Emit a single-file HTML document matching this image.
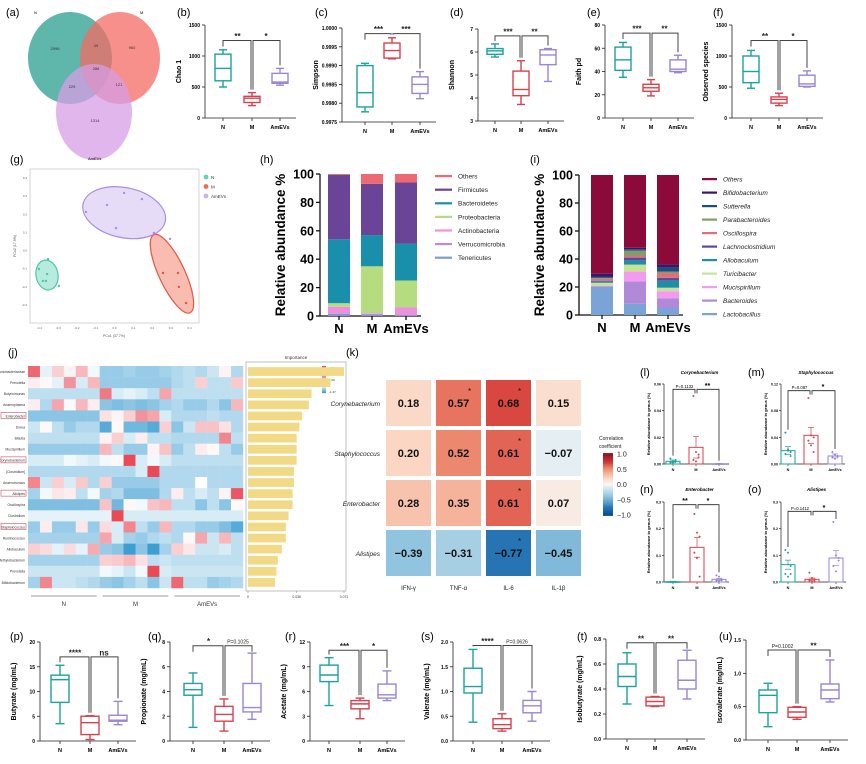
<!DOCTYPE html>
<html><head><meta charset="utf-8">
<style>
html,body{margin:0;padding:0;background:#fff;}
svg{display:block;font-family:"Liberation Sans",Arial,sans-serif;}
</style></head>
<body>
<svg id="fig" width="866" height="764" viewBox="0 0 866 764" xmlns="http://www.w3.org/2000/svg">
<g id="venn">
  <text x="6" y="16" font-size="11">(a)</text>
  <ellipse cx="70" cy="58" rx="42" ry="46" fill="#2a9d8f" opacity="0.75"/>
  <ellipse cx="120" cy="58" rx="40" ry="46" fill="#f46b63" opacity="0.75"/>
  <ellipse cx="94" cy="112" rx="38" ry="48" fill="#d69ee6" opacity="0.75"/>
  <text x="34" y="14" font-size="4">N</text>
  <text x="140" y="14" font-size="4">M</text>
  <text x="88" y="160" font-size="4">AmEVs</text>
  <g font-size="4" fill="#333" text-anchor="middle">
    <text x="55" y="50">2996</text>
    <text x="96" y="47">49</text>
    <text x="132" y="49">960</text>
    <text x="96" y="70">286</text>
    <text x="72" y="88">229</text>
    <text x="119" y="86">121</text>
    <text x="95" y="122">1314</text>
  </g>
</g>
</svg>
<script>
const NS='http://www.w3.org/2000/svg';
const svg=document.getElementById('fig');
const groups=['N','M','AmEVs'];
const groupColors=['#1ba39c','#d8424e','#9a86d3'];

// ---- box plot data: [min, q1, median, q3, max] per group ----
const chao1Box=[[500,600,800,1030,1100],[200,250,320,350,410],[530,560,580,720,800]];
const simpsonBox=[[0.99777,0.9979,0.99828,0.999,0.99906],[0.99918,0.9992,0.9994,0.9996,0.99974],[0.99812,0.99826,0.9985,0.9987,0.99884]];
const shannonBox=[[5.78,5.9,6.05,6.15,6.35],[3.72,4.1,4.37,5.17,5.62],[4.72,5.45,5.87,6.1,6.15]];
const faithBox=[[35,41,50,61,65],[19,23,26,29,33],[39,40,42,50,54]];
const observedBox=[[480,570,750,1000,1090],[200,240,300,340,400],[500,510,550,690,760]];
const butyrateBox=[[3.5,7.8,12.4,13.3,15.3],[0.3,1.3,3.7,5.0,5.1],[3.3,4.0,4.2,5.2,8.0]];
const propionateBox=[[1.1,3.7,4.15,4.65,5.5],[0.8,1.6,2.15,2.8,3.4],[1.75,2.35,2.7,4.65,7.1]];
const acetateBox=[[4.3,7.2,8.0,9.2,10.1],[2.7,3.9,4.5,4.9,5.2],[4.9,5.2,5.6,6.9,8.5]];
const valerateBox=[[0.38,0.97,1.1,1.47,1.85],[0.2,0.25,0.33,0.45,0.55],[0.4,0.57,0.71,0.82,1.0]];
const isobutyrateBox=[[0.28,0.42,0.5,0.6,0.69],[0.26,0.265,0.3,0.335,0.34],[0.32,0.4,0.47,0.63,0.71]];
const isovalerateBox=[[0.2,0.41,0.67,0.75,0.85],[0.31,0.34,0.42,0.49,0.5],[0.57,0.62,0.75,0.84,1.2]];

const chao1Ticks=[0,500,1000,1500];
const simpsonTicks=[0.9975,0.998,0.9985,0.999,0.9995,1.0];
const simpsonTickLabels=['0.9975','0.9980','0.9985','0.9990','0.9995','1.0000'];
const shannonTicks=[3,4,5,6,7];
const faithTicks=[0,20,40,60,80];
const observedTicks=[0,500,1000,1500];
const butyrateTicks=[0,5,10,15,20];
const propionateTicks=[0,2,4,6,8];
const acetateTicks=[0,3,6,9,12];
const valerateTicks=[0,0.5,1,1.5,2];
const valerateTickLabels=['0.0','0.5','1.0','1.5','2.0'];
const isobutyrateTicks=[0,0.2,0.4,0.6,0.8];
const isobutyrateTickLabels=['0.0','0.2','0.4','0.6','0.8'];
const isovalerateTicks=[0,0.5,1,1.5];
const isovalerateTickLabels=['0.0','0.5','1.0','1.5'];

// ---- stacked bar data (h) phylum, bottom->top ----
const phylaNames=['Tenericutes','Verrucomicrobia','Actinobacteria','Proteobacteria','Bacteroidetes','Firmicutes','Others'];
const phylaN=[1.5,0.5,4.5,2.5,45,45.5,0.5];
const phylaM=[1,0.5,0.5,33,22,36,7];
const phylaA=[0.5,0.5,5,19,26,43,6];
// ---- stacked bar data (i) genus, bottom->top ----
const genusNames=['Lactobacillus','Bacteroides','Mucispirillum','Turicibacter','Allobaculum','Lachnoclostridium','Oscillospira','Parabacteroides','Sutterella','Bifidobacterium','Others'];
const genusN=[20,0.5,0.5,2,1,0.5,1.5,0.5,1,2,70.5];
const genusM=[8,16,7,5,3,2,1.5,3.5,1,1,52];
const genusA=[5,7,5,2.5,5,2,3.5,1,3,2,64];
const pctTicks=[0,20,40,60,80,100];

// ---- PCoA points (g) ----
const pcoNx=[-0.354,-0.402,-0.359,-0.381,-0.365,-0.296];
const pcoNy=[-0.047,-0.102,-0.130,-0.168,-0.168,-0.196];
const pcoMx=[0.210,0.258,0.338,0.343,0.381];
const pcoMy=[0.097,-0.124,-0.124,-0.201,-0.290];
const pcoAx=[0.051,0.146,-0.040,-0.152,0.008,0.296];
const pcoAy=[0.318,0.284,0.251,0.213,0.124,0.064];

// ---- heatmap (j) ----
const heatRows=['Coriobacteriaceae','Prevotella','Butyricimonas','Anaeroplasma','Enterobacter','Dorea','Blautia','Mucispirillum','Corynebacterium','[Clostridium]','Anaerotruncus','Alistipes','Oscillospira','Clostridium','Staphylococcus','Ruminococcus','Allobaculum','Methylobacterium','Prevotella_2','Bifidobacterium'];
const heatValues=[
[2.5,-0.2,0.8,0.2,1.2,-0.1,-0.8,-0.8,-0.7,-0.8,-0.8,-0.7,-0.6,-0.5,-0.6,-0.4,0.2,-0.6],
[0.3,0.1,-0.2,1.8,-0.3,1.2,-0.8,-0.8,-0.8,-0.8,-0.8,-0.8,-0.6,-0.5,0.8,-0.5,-0.5,0.9],
[-0.5,-0.5,-0.5,-0.5,-0.5,-0.5,2.2,-0.3,-0.2,-0.3,-0.5,1.5,-0.5,-0.5,-0.5,-0.5,-0.5,-0.5],
[0.3,-0.6,1.5,0.1,1.2,0.3,-0.9,-1.0,-0.9,-1.0,-0.9,-0.7,-0.6,-0.8,-0.8,-0.6,-0.9,1.2],
[-0.9,-0.9,-0.9,-0.9,-0.9,-0.9,0.5,0.2,0.8,1.8,1.5,-0.3,-0.6,-0.6,-0.6,-0.5,-0.6,-0.6],
[-0.4,0.1,-0.5,-0.8,-0.6,-0.6,-1.3,0.1,-1.1,-1.1,-1.3,0.8,-0.9,-0.4,1.0,1.0,0.5,-0.6],
[-0.5,-0.5,-0.5,-0.5,-0.5,-0.5,0.2,0.8,-0.3,0.3,-0.5,-0.5,-0.6,-0.6,-0.6,-0.6,2.0,-0.5],
[-0.8,-0.8,-0.8,-0.8,-0.8,-0.8,1.2,-0.5,-0.8,-0.8,0.2,1.0,-0.8,-0.5,0.3,0.1,-0.5,-0.8],
[-0.3,-0.3,-0.3,-0.1,-0.2,-0.3,-0.1,0.1,3.5,-0.3,-0.1,-0.3,-0.5,-0.5,-0.5,-0.5,-0.5,-0.5],
[-0.6,-0.6,-0.6,-0.6,-0.6,-0.6,-0.6,-0.6,-0.6,-0.3,3.0,-0.6,-0.6,-0.6,-0.6,-0.6,-0.6,-0.6],
[2.0,-0.4,0.8,-0.3,0.9,-0.6,0.8,-0.8,-0.8,-0.8,-0.8,-0.6,-0.6,-0.6,0,-0.6,-0.6,-0.6],
[-0.7,-0.1,0.4,0.3,-0.5,-0.1,-0.7,-0.6,-1.0,-1.0,-1.0,-0.6,0.3,-0.5,-0.3,-0.5,0.2,2.8],
[-1.0,-1.0,-1.0,-1.0,-1.0,-1.0,1.0,-1.1,0.1,-0.1,1.0,1.2,-0.5,-0.5,-0.9,-0.5,-0.9,0.1],
[-0.2,-0.2,-0.2,-0.2,-0.2,-0.2,-0.2,3.5,-0.3,-0.3,-0.3,-0.3,-0.3,-0.3,-0.3,-0.3,-0.3,-0.3],
[-0.8,0.3,-0.8,-0.8,0.4,-0.8,0.6,-0.3,2.0,-0.5,-0.8,1.2,-0.6,-0.6,-0.8,-0.8,-1.0,-1.3],
[-0.7,-0.7,-0.7,-0.7,-0.7,-0.7,1.5,-0.3,-0.7,-0.8,-0.6,-0.5,-0.6,0.1,1.5,-0.4,1.2,-0.5],
[0.8,0.6,-0.2,0.6,-0.2,1.4,-0.8,-0.9,-1.5,-0.9,-1.5,-0.7,0.8,0.4,-0.4,-0.4,-0.3,-0.5],
[-0.7,-0.7,-0.7,-0.7,-0.7,-0.7,0.8,0.9,1.2,0.5,-0.5,-0.4,-0.5,-0.5,-0.5,-0.5,-0.5,-0.5],
[-0.4,-0.4,-0.4,-0.4,-0.4,-0.4,-0.1,-0.2,-0.4,-0.1,3.2,-0.3,-0.4,-0.4,-0.4,-0.4,-0.4,-0.4],
[-0.7,2.0,-0.4,-0.4,-0.5,-0.6,-0.8,-0.9,-0.7,-0.5,-0.9,-0.4,2.5,-0.5,-0.5,-0.8,-0.7,-0.6]];
const highlightedRows=['Enterobacter','Corynebacterium','Alistipes','Staphylococcus'];
const importanceValues=[0.071,0.061,0.047,0.045,0.040,0.038,0.036,0.036,0.036,0.034,0.034,0.033,0.033,0.030,0.028,0.028,0.025,0.022,0.021,0.020];
const importanceTicks=[0,0.036,0.071];

// ---- correlation (k) ----
const corrRows=['Corynebacterium','Staphylococcus','Enterobacter','Alistipes'];
const corrCols=['IFN-γ','TNF-α','IL-6','IL-1β'];
const corrValues=[[0.18,0.57,0.68,0.15],[0.20,0.52,0.61,-0.07],[0.28,0.35,0.61,0.07],[-0.39,-0.31,-0.77,-0.45]];
const corrStars=[[0,1,1,0],[0,0,1,0],[0,0,1,0],[0,0,1,0]];
const corrTicks=[1,0.5,0,-0.5,-1];

// ---- bar + dot panels (l-o) ----
const corynMean=[0.002,0.0125,0.0002], corynSem=[0.001,0.008,0];
const corynPts=[[0.001,0.002,0.003,0.004,0.001,0.002],[0.051,0.009,0.005,0.003,0.002,0.007],[0,0,0,0,0,0]];
const staphMean=[0.02,0.043,0.012], staphSem=[0.006,0.012,0.003];
const staphPts=[[0.047,0.02,0.018,0.015,0.022,0.012],[0.099,0.043,0.04,0.035,0.028,0.018],[0.018,0.014,0.012,0.01,0.008,0.011]];
const enteroMean=[0.001,0.13,0.01], enteroSem=[0.0005,0.037,0.004];
const enteroPts=[[0,0.001,0,0.001,0,0.001],[0.255,0.185,0.17,0.11,0.09,0.02],[0.025,0.02,0.01,0.005,0.003,0.006]];
const alistMean=[0.065,0.01,0.09], alistSem=[0.017,0.005,0.028];
const alistPts=[[0.12,0.11,0.06,0.03,0.02,0.03],[0.035,0.015,0.01,0.005,0.002,0.001],[0.225,0.1,0.08,0.06,0.04,0.09]];
const corynTicks=[0,0.02,0.04,0.06], corynTickLabels=['0.00','0.02','0.04','0.06'];
const staphTicks=[0,0.04,0.08,0.12], staphTickLabels=['0.00','0.04','0.08','0.12'];
const pctGenusTicks=[0,0.1,0.2,0.3], pctGenusTickLabels=['0.0','0.1','0.2','0.3'];

// ---------- helpers ----------
function el(tag,attrs,parent){const e=document.createElementNS(NS,tag);for(const k in attrs)e.setAttribute(k,attrs[k]);(parent||svg).appendChild(e);return e;}
function txt(x,y,s,size,parent,extra){const t=el('text',Object.assign({x:x,y:y,'font-size':size},extra||{}),parent);t.textContent=s;return t;}
function lin(d0,d1,r0,r1){return v=>r0+(v-d0)/(d1-d0)*(r1-r0);}
function hex2rgb(h){return [parseInt(h.substr(1,2),16),parseInt(h.substr(3,2),16),parseInt(h.substr(5,2),16)];}
function mix(a,b,t){const A=hex2rgb(a),B=hex2rgb(b);return 'rgb('+A.map((v,i)=>Math.round(v+(B[i]-v)*t)).join(',')+')';}

// ---------- box panels ----------
function boxPanel(cfg){
  const g=el('g',{});
  
  
  const lab=txt(cfg.lx,cfg.ly,cfg.label,11,g);
  
  
  const y=lin(cfg.ticks[0],cfg.ticks[cfg.ticks.length-1],cfg.yBot,cfg.yTop);
  const xEnd=cfg.xs[2]+cfg.bw;
  el('line',{x1:cfg.ax,y1:cfg.yTop,x2:cfg.ax,y2:cfg.yBot,stroke:'#222','stroke-width':0.8},g);
  el('line',{x1:cfg.ax,y1:cfg.yBot,x2:xEnd,y2:cfg.yBot,stroke:'#222','stroke-width':0.8},g);
  cfg.ticks.forEach((t,i)=>{
    el('line',{x1:cfg.ax-3,y1:y(t),x2:cfg.ax,y2:y(t),stroke:'#222','stroke-width':0.8},g);
    const tl=txt(cfg.ax-5,y(t)+2,cfg.tickLabels?cfg.tickLabels[i]:String(t),5,g,{'text-anchor':'end','font-weight':'bold'});
    
    
  });
  cfg.xs.forEach((x,i)=>{
    el('line',{x1:x,y1:cfg.yBot,x2:x,y2:cfg.yBot+3,stroke:'#222','stroke-width':0.8},g);
    const xl=txt(x,cfg.yBot+11,groups[i],5.5,g,{'text-anchor':'middle','font-weight':'bold'});
    
    
  });
  const yt=txt(0,0,cfg.title,7,g,{'text-anchor':'middle','font-weight':'bold',transform:'translate('+(cfg.ax-24)+','+((cfg.yTop+cfg.yBot)/2)+') rotate(-90)'});
  
  
  cfg.data.forEach((d,i)=>{
    const x=cfg.xs[i],c=groupColors[i],hw=cfg.bw/2;
    const bg=el('g',{stroke:c,'stroke-width':1.4,fill:'#fff'},g);
    
    
    el('line',{x1:x,y1:y(d[0]),x2:x,y2:y(d[4])},bg);
    el('line',{x1:x-hw/2,y1:y(d[0]),x2:x+hw/2,y2:y(d[0])},bg);
    el('line',{x1:x-hw/2,y1:y(d[4]),x2:x+hw/2,y2:y(d[4])},bg);
    el('rect',{x:x-hw,y:y(d[3]),width:cfg.bw,height:Math.max(0.5,y(d[1])-y(d[3])),fill:'#fff'},bg);
    el('line',{x1:x-hw,y1:y(d[2]),x2:x+hw,y2:y(d[2])},bg);
  });
  // brackets
  const by=y(cfg.br);
  const top=i=>y(cfg.data[i][4])-3;
  const bk=el('g',{stroke:'#444','stroke-width':1,fill:'none'},g);
  
  
  el('polyline',{points:cfg.xs[0]+','+(top(0)>by+6?by+6:top(0))+' '+cfg.xs[0]+','+by+' '+(cfg.xs[1]-1)+','+by+' '+(cfg.xs[1]-1)+','+top(1)},bk);
  el('polyline',{points:(cfg.xs[1]+1)+','+top(1)+' '+(cfg.xs[1]+1)+','+by+' '+cfg.xs[2]+','+by+' '+cfg.xs[2]+','+(top(2)>by+6?top(2):by+6)},bk);
  cfg.sig.forEach((s,i)=>{
    const cx=(cfg.xs[i]+cfg.xs[i+1])/2;
    const isP=s.indexOf('P=')===0;
    const st=txt(cx,by-(isP?2:1.5),s,isP?5:8,g,{'text-anchor':'middle','font-weight':isP?'normal':'bold',fill:'#222'});
    
    
  });
}
const boxPanels=[
 {name:'chao1-boxplot',label:'(b)',lx:177,ly:16,ax:205,yTop:25,yBot:118,xs:[223,252,280],bw:16,data:chao1Box,ticks:chao1Ticks,title:'Chao 1',br:1250,sig:['**','*']},
 {name:'simpson-boxplot',label:'(c)',lx:315,ly:16,ax:342,yTop:28,yBot:122,xs:[365,392,420],bw:16,data:simpsonBox,ticks:simpsonTicks,tickLabels:simpsonTickLabels,title:'Simpson',br:0.99985,sig:['***','***']},
 {name:'shannon-boxplot',label:'(d)',lx:450,ly:16,ax:478,yTop:29,yBot:121,xs:[495,521,548],bw:16,data:shannonBox,ticks:shannonTicks,title:'Shannon',br:6.7,sig:['***','**']},
 {name:'faith-pd-boxplot',label:'(e)',lx:587,ly:16,ax:605,yTop:25,yBot:118,xs:[623,651,678],bw:16,data:faithBox,ticks:faithTicks,title:'Faith pd',br:73,sig:['***','**']},
 {name:'observed-species-boxplot',label:'(f)',lx:713,ly:16,ax:732,yTop:25,yBot:118,xs:[751,779,807],bw:16,data:observedBox,ticks:observedTicks,title:'Observed species',br:1250,sig:['**','*']},
 {name:'butyrate-boxplot',label:'(p)',lx:10,ly:640,ax:40,yTop:642,yBot:741,xs:[60,90,118],bw:18,data:butyrateBox,ticks:butyrateTicks,title:'Butyrate (mg/mL)',br:17,sig:['****','ns']},
 {name:'propionate-boxplot',label:'(q)',lx:148,ly:640,ax:170,yTop:642,yBot:741,xs:[193,224,252],bw:18,data:propionateTicks?propionateBox:propionateBox,ticks:propionateTicks,title:'Propionate (mg/mL)',br:7.7,sig:['*','P=0.1025']},
 {name:'acetate-boxplot',label:'(r)',lx:285,ly:640,ax:310,yTop:642,yBot:741,xs:[329,360,387],bw:18,data:acetateBox,ticks:acetateTicks,title:'Acetate (mg/mL)',br:11,sig:['***','*']},
 {name:'valerate-boxplot',label:'(s)',lx:421,ly:640,ax:453,yTop:642,yBot:741,xs:[473,502,532],bw:18,data:valerateBox,ticks:valerateTicks,tickLabels:valerateTickLabels,title:'Valerate (mg/mL)',br:1.93,sig:['****','P=0.0626']},
 {name:'isobutyrate-boxplot',label:'(t)',lx:577,ly:640,ax:606,yTop:639,yBot:739,xs:[627,655,687],bw:18,data:isobutyrateBox,ticks:isobutyrateTicks,tickLabels:isobutyrateTickLabels,title:'Isobutyrate (mg/mL)',br:0.77,sig:['**','**']},
 {name:'isovalerate-boxplot',label:'(u)',lx:719,ly:640,ax:746,yTop:640,yBot:740,xs:[768,797,830],bw:18,data:isovalerateBox,ticks:isovalerateTicks,tickLabels:isovalerateTickLabels,title:'Isovalerate (mg/mL)',br:1.35,sig:['P=0.1002','**']}
];
boxPanels.forEach(boxPanel);

// ---------- PCoA (g) ----------
(function(){
  const g=el('g',{});
  
  
  const l=txt(10,163,'(g)',11,g);
  
  
  el('rect',{x:30,y:169,width:169,height:154,fill:'none',stroke:'#ccc','stroke-width':0.8},g);
  const x=lin(-0.45,0.45,30,199), y=lin(-0.4,0.45,323,169);
  [-0.4,-0.3,-0.2,-0.1,0,0.1,0.2,0.3,0.4].forEach(t=>{txt(x(t),329,t.toFixed(1),3,g,{'text-anchor':'middle',fill:'#666'});});
  [-0.3,-0.2,-0.1,0,0.1,0.2,0.3,0.4].forEach(t=>{txt(27,y(t)+1,t.toFixed(1),3,g,{'text-anchor':'end',fill:'#666'});});
  txt(114,337,'PCo1 (37.7%)',3.5,g,{'text-anchor':'middle',fill:'#555'});
  txt(0,0,'PCo2 (17.5%)',3.5,g,{'text-anchor':'middle',fill:'#555',transform:'translate(16,246) rotate(-90)'});
  const sets=[[pcoNx,pcoNy,'#5fd3b4','#4cc7a8',11,15,-10],[pcoMx,pcoMy,'#f06a50','#e5553f',13,43,-25],[pcoAx,pcoAy,'#c8b2f0','#a98be6',42,25,12]];
  sets.forEach((s,i)=>{
    const mx=s[0].reduce((a,b)=>a+b,0)/s[0].length, my=s[1].reduce((a,b)=>a+b,0)/s[1].length;
    const e=el('ellipse',{cx:x(mx),cy:y(my),rx:s[4],ry:s[5],fill:s[2],'fill-opacity':0.45,stroke:s[3],'stroke-width':1.2,transform:'rotate('+s[6]+' '+x(mx)+' '+y(my)+')'},g);
    
    
    s[0].forEach((v,j)=>{
      const p=el('circle',{cx:x(v),cy:y(s[1][j]),r:1.2,fill:s[3]},g);
      
      
    });
  });
  const lc=['#5fd3b4','#f06a50','#c8b2f0'];
  groups.forEach((gname,i)=>{
    const le=el('g',{},g);
    
    
    el('circle',{cx:206,cy:177+i*9.5,r:2.4,fill:lc[i]},le);
    txt(211,179+i*9.5,gname,4.5,le,{fill:'#333'});
  });
})();

// ---------- stacked bars ----------
function stacked(cfg){
  const g=el('g',{});
  
  
  const l=txt(cfg.lx,163,cfg.label,11,g);
  
  
  const y=lin(0,100,cfg.yBot,cfg.yTop);
  el('line',{x1:cfg.ax,y1:cfg.yTop,x2:cfg.ax,y2:cfg.yBot,stroke:'#111','stroke-width':1.3},g);
  el('line',{x1:cfg.ax,y1:cfg.yBot,x2:cfg.xs[2]+cfg.bw/2+4,y2:cfg.yBot,stroke:'#111','stroke-width':1.3},g);
  pctTicks.forEach(t=>{
    el('line',{x1:cfg.ax-4,y1:y(t),x2:cfg.ax,y2:y(t),stroke:'#111','stroke-width':1.3},g);
    const tl=txt(cfg.ax-6,y(t)+4.5,String(t),12.5,g,{'text-anchor':'end','font-weight':'bold'});
    
    
  });
  const yt=txt(0,0,'Relative abundance %',13.5,g,{'text-anchor':'middle','font-weight':'bold',transform:'translate('+(cfg.ax-35)+','+((cfg.yTop+cfg.yBot)/2)+') rotate(-90)'});
  
  
  cfg.series.forEach((vals,i)=>{
    let acc=0;
    const x=cfg.xs[i];
    el('line',{x1:x,y1:cfg.yBot,x2:x,y2:cfg.yBot+4,stroke:'#111','stroke-width':1.3},g);
    const xl=txt(x,cfg.yBot+17,groups[i],13,g,{'text-anchor':'middle','font-weight':'bold'});
    
    
    vals.forEach((v,j)=>{
      const r=el('rect',{x:x-cfg.bw/2,y:y(acc+v),width:cfg.bw,height:y(acc)-y(acc+v),fill:cfg.colors[j]},g);
      
      
      acc+=v;
    });
  });
  const n=cfg.names.length;
  for(let k=0;k<n;k++){
    const j=n-1-k;
    const le=el('g',{},g);
    
    
    el('rect',{x:cfg.legX,y:cfg.legY+k*cfg.legStep-1,width:cfg.legW,height:2.2,fill:cfg.colors[j]},le);
    txt(cfg.legX+cfg.legW+6,cfg.legY+k*cfg.legStep+2.5,cfg.names[j],6.5,le,{'font-style':cfg.italic?'italic':'normal',fill:'#222'});
  }
}
stacked({name:'phylum-stacked-bar',label:'(h)',lx:260,ax:320,yTop:174,yBot:316,xs:[339,372,406],bw:22,series:[phylaN,phylaM,phylaA],names:phylaNames,
  colors:['#7e9ad0','#c08ad8','#f28ee0','#b6dc80','#1a8fac','#6a4496','#ee6a72'],legX:435,legY:176,legStep:13.6,legW:17,italic:false});
stacked({name:'genus-stacked-bar',label:'(i)',lx:530,ax:579,yTop:175,yBot:315,xs:[602,635,668],bw:22,series:[genusN,genusM,genusA],names:genusNames,
  colors:['#7aa4d8','#b08ad8','#f49af0','#c4e494','#1e8ea6','#5e4a9c','#e07078','#7e9e6a','#17507e','#3a1470','#8b0a3a'],legX:702,legY:179,legStep:13.5,legW:15,italic:true});

// ---------- heatmap (j) ----------
(function(){
  const g=el('g',{});
  
  
  const l=txt(8,356,'(j)',11,g);
  
  
  const x0=28,y0=366,cw=215/18,rh=222/20;
  const col=v=>v<0?mix('#ffffff','#3d9ed2',Math.min(1,-v/1.5)):mix('#ffffff','#ea4a56',Math.min(1,v/3));
  heatValues.forEach((row,r)=>{
    row.forEach((v,c)=>{
      const cell=el('rect',{x:x0+c*cw,y:y0+r*rh,width:cw+0.2,height:rh+0.2,fill:col(v)},g);
      
      
    });
    const name=heatRows[r].replace('_2','');
    const t=txt(x0-3,y0+r*rh+rh/2+1.3,name,3.4,g,{'text-anchor':'end',fill:'#333'});
    
    
    if(highlightedRows.indexOf(heatRows[r])>=0){
      el('rect',{x:x0-27,y:y0+r*rh+rh/2-3.5,width:25,height:6,fill:'none',stroke:'#d44a6a','stroke-width':0.6},g);
    }
  });
  [[0,6,'N'],[6,12,'M'],[12,18,'AmEVs']].forEach(s=>{
    el('line',{x1:x0+s[0]*cw+3,y1:596,x2:x0+s[1]*cw-3,y2:596,stroke:'#777','stroke-width':0.7},g);
    txt(x0+(s[0]+s[1])/2*cw,606,s[2],6,g,{'text-anchor':'middle',fill:'#333'});
  });
  // colorbar
  const cb=el('g',{},g);
  
  
  for(let k=0;k<20;k++){const v=4.11-(k/19)*(4.11+1.47);el('rect',{x:322,y:366+k*1.35,width:4,height:1.5,fill:col(v)},cb);}
  txt(329,369,'4.11',3,cb,{fill:'#333'});
  txt(329,381,'0.00',3,cb,{fill:'#333'});
  txt(329,393,'-1.47',3,cb,{fill:'#333'});
  // importance
  const ig=el('g',{},g);
  
  
  el('rect',{x:246,y:362,width:100,height:229,fill:'none',stroke:'#999','stroke-width':0.6},ig);
  txt(296,359,'Importance',4.5,ig,{'text-anchor':'middle',fill:'#333'});
  const xi=lin(0,0.071,248,344);
  importanceValues.forEach((v,r)=>{
    const b=el('rect',{x:248,y:y0+r*rh+1.2,width:xi(v)-248,height:rh-2.4,fill:'#f1d985'},ig);
    
    
  });
  importanceTicks.forEach(t=>{
    el('line',{x1:xi(t),y1:591,x2:xi(t),y2:593,stroke:'#777','stroke-width':0.5},ig);
    txt(xi(t),598,String(t),3.4,ig,{'text-anchor':'middle',fill:'#333'});
  });
})();

// ---------- correlation (k) ----------
(function(){
  const g=el('g',{});
  
  
  const l=txt(346,356,'(k)',11,g);
  
  
  const stops=[[-1,'#0a4a8a'],[-0.75,'#2a78b8'],[-0.4,'#8ec4de'],[0,'#f7f7f7'],[0.2,'#fbd6c2'],[0.5,'#ee9073'],[0.7,'#d6403a'],[1,'#8e0c20']];
  const col=v=>{for(let i=1;i<stops.length;i++){if(v<=stops[i][0]){const a=stops[i-1],b=stops[i];return mix(a[1],b[1],(v-a[0])/(b[0]-a[0]));}}return stops[stops.length-1][1];};
  const cx=c=>386+c*50, cy=r=>380+r*50;
  corrValues.forEach((row,r)=>{
    row.forEach((v,c)=>{
      const rc=el('rect',{x:cx(c),y:cy(r),width:45,height:46,fill:col(v)},g);
      
      
      const t=txt(cx(c)+22.5,cy(r)+27,(v<0?'−':'')+Math.abs(v).toFixed(2),11,g,{'text-anchor':'middle','font-weight':'bold',fill:'#111'});
      
      
      if(corrStars[r][c]) txt(cx(c)+32,cy(r)+14,'*',8,g,{fill:'#111'});
    });
    const rl=txt(380,cy(r)+26,corrRows[r],6.5,g,{'text-anchor':'end','font-style':'italic',fill:'#222'});
    
    
  });
  corrCols.forEach((s,c)=>{
    const t=txt(cx(c)+22.5,590,s,6,g,{'text-anchor':'middle',fill:'#222'});
    
    
  });
  const cb=el('g',{},g);
  
  
  txt(599,440,'Correlation',5,cb,{fill:'#222'});
  txt(599,448,'coefficient',5,cb,{fill:'#222'});
  const yc=lin(1,-1,454,515);
  for(let k=0;k<40;k++){const v=1-k/39*2;el('rect',{x:603,y:yc(v)-0.9,width:10,height:1.8,fill:col(v)},cb);}
  corrTicks.forEach(t=>{txt(617,yc(t)+2.5,t.toFixed(1).replace('-','−'),7,cb,{fill:'#222'});});
})();

// ---------- bar + dot panels ----------
function dotPanel(cfg){
  const g=el('g',{});
  
  
  const l=txt(cfg.lx,cfg.ly,cfg.label,11,g);
  
  
  txt((cfg.ax+cfg.xs[2]+8)/2+4,cfg.ly-2,cfg.title,4.6,g,{'text-anchor':'middle','font-style':'italic','font-weight':'bold'});
  const y=lin(0,cfg.ticks[cfg.ticks.length-1],cfg.yBot,cfg.yTop);
  el('line',{x1:cfg.ax,y1:cfg.yTop,x2:cfg.ax,y2:cfg.yBot,stroke:'#222','stroke-width':0.7},g);
  el('line',{x1:cfg.ax,y1:cfg.yBot,x2:cfg.xs[2]+10,y2:cfg.yBot,stroke:'#222','stroke-width':0.7},g);
  cfg.ticks.forEach((t,i)=>{
    el('line',{x1:cfg.ax-2,y1:y(t),x2:cfg.ax,y2:y(t),stroke:'#222','stroke-width':0.7},g);
    txt(cfg.ax-3,y(t)+1.5,cfg.tickLabels[i],3.6,g,{'text-anchor':'end','font-weight':'bold'});
  });
  txt(0,0,'Relative abundance in genus (%)',4,g,{'text-anchor':'middle','font-weight':'bold',transform:'translate('+(cfg.ax-14)+','+((cfg.yTop+cfg.yBot)/2)+') rotate(-90)'});
  cfg.means.forEach((m,i)=>{
    const x=cfg.xs[i],c=groupColors[i];
    el('line',{x1:x,y1:cfg.yBot,x2:x,y2:cfg.yBot+2,stroke:'#222','stroke-width':0.6},g);
    txt(x,cfg.yBot+7,groups[i],3.8,g,{'text-anchor':'middle','font-weight':'bold'});
    const b=el('rect',{x:x-7,y:y(m),width:14,height:Math.max(0.6,cfg.yBot-y(m)),fill:'#fff',stroke:c,'stroke-width':1},g);
    
    
    el('line',{x1:x,y1:y(m),x2:x,y2:y(m+cfg.sems[i]),stroke:c,'stroke-width':0.7},g);
    el('line',{x1:x-3,y1:y(m+cfg.sems[i]),x2:x+3,y2:y(m+cfg.sems[i]),stroke:c,'stroke-width':0.7},g);
    el('line',{x1:x-3,y1:y(Math.max(0,m-cfg.sems[i])),x2:x+3,y2:y(Math.max(0,m-cfg.sems[i])),stroke:c,'stroke-width':0.7},g);
    cfg.pts[i].forEach((p,j)=>{
      const d=el('circle',{cx:x+((j%3)-1)*2.6,cy:y(p),r:1,fill:c},g);
      
      
    });
  });
  const by=y(cfg.br);
  const maxTop=i=>y(Math.max(cfg.means[i]+cfg.sems[i],Math.max.apply(null,cfg.pts[i])))-3;
  const bk=el('g',{stroke:'#222','stroke-width':0.8,fill:'none'},g);
  el('polyline',{points:cfg.xs[0]+','+maxTop(0)+' '+cfg.xs[0]+','+by+' '+(cfg.xs[1]-1)+','+by+' '+(cfg.xs[1]-1)+','+(by+4)},bk);
  el('polyline',{points:(cfg.xs[1]+1)+','+(by+4)+' '+(cfg.xs[1]+1)+','+by+' '+cfg.xs[2]+','+by+' '+cfg.xs[2]+','+maxTop(2)},bk);
  cfg.sig.forEach((s,i)=>{
    const isP=s.indexOf('P=')===0;
    txt((cfg.xs[i]+cfg.xs[i+1])/2,by-1.5,s,isP?4.2:7,g,{'text-anchor':'middle','font-weight':isP?'normal':'bold'});
  });
}
dotPanel({name:'corynebacterium-bar-chart',label:'(l)',lx:640,ly:376,title:'Corynebacterium',ax:664,yTop:384,yBot:464,xs:[673,696,719],ticks:corynTicks,tickLabels:corynTickLabels,means:corynMean,sems:corynSem,pts:corynPts,br:0.056,sig:['P=0.1132','**']});
dotPanel({name:'staphylococcus-bar-chart',label:'(m)',lx:748,ly:376,title:'Staphylococcus',ax:781,yTop:384,yBot:464,xs:[788,811,835],ticks:staphTicks,tickLabels:staphTickLabels,means:staphMean,sems:staphSem,pts:staphPts,br:0.11,sig:['P=0.087','*']});
dotPanel({name:'enterobacter-bar-chart',label:'(n)',lx:640,ly:493,title:'Enterobacter',ax:664,yTop:502,yBot:582,xs:[673,697,719],ticks:pctGenusTicks,tickLabels:pctGenusTickLabels,means:enteroMean,sems:enteroSem,pts:enteroPts,br:0.29,sig:['**','*']});
dotPanel({name:'alistipes-bar-chart',label:'(o)',lx:748,ly:493,title:'Alistipes',ax:781,yTop:502,yBot:582,xs:[788,812,836],ticks:pctGenusTicks,tickLabels:pctGenusTickLabels,means:alistMean,sems:alistSem,pts:alistPts,br:0.265,sig:['P=0.1412','*']});
</script>
</body></html>
